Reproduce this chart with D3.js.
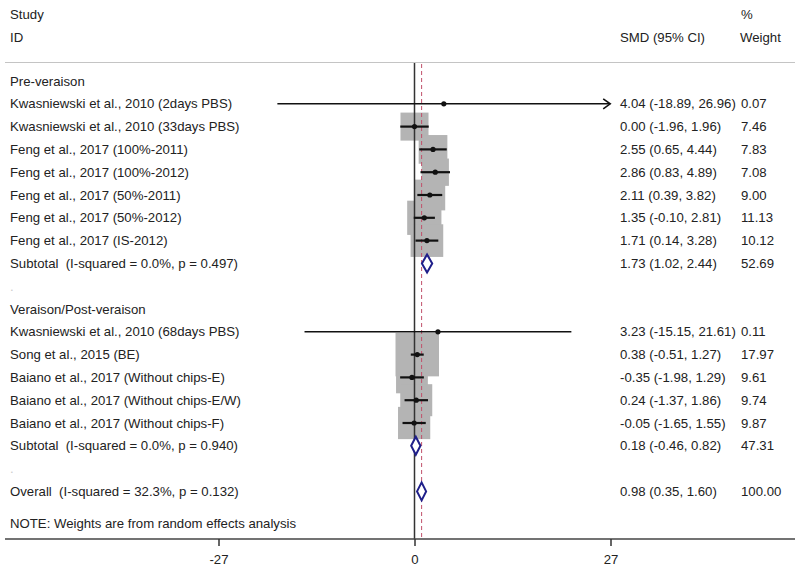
<!DOCTYPE html>
<html><head><meta charset="utf-8">
<script src="https://cdn.jsdelivr.net/npm/d3@7"></script>
<style>
html,body{margin:0;padding:0;background:#fff;}
svg{display:block;font-family:"Liberation Sans",Arial,sans-serif;}
svg text{white-space:pre;}
</style></head>
<body><svg id="chart" width="798" height="570"></svg>
<script>
// ---- data ----
const groupNames = ["Pre-veraison", "Veraison/Post-veraison"];
const studyNames = [
  "Kwasniewski et al., 2010 (2days PBS)",
  "Kwasniewski et al., 2010 (33days PBS)",
  "Feng et al., 2017 (100%-2011)",
  "Feng et al., 2017 (100%-2012)",
  "Feng et al., 2017 (50%-2011)",
  "Feng et al., 2017 (50%-2012)",
  "Feng et al., 2017 (IS-2012)",
  "Kwasniewski et al., 2010 (68days PBS)",
  "Song et al., 2015 (BE)",
  "Baiano et al., 2017 (Without chips-E)",
  "Baiano et al., 2017 (Without chips-E/W)",
  "Baiano et al., 2017 (Without chips-F)"
];
const studyGroup = [0,0,0,0,0,0,0,1,1,1,1,1];
const studySMD   = [4.04, 0.00, 2.55, 2.86, 2.11, 1.35, 1.71, 3.23, 0.38, -0.35, 0.24, -0.05];
const studyLow   = [-18.89, -1.96, 0.65, 0.83, 0.39, -0.10, 0.14, -15.15, -0.51, -1.98, -1.37, -1.65];
const studyHigh  = [26.96, 1.96, 4.44, 4.89, 3.82, 2.81, 3.28, 21.61, 1.27, 1.29, 1.86, 1.55];
const studyWeight= [0.07, 7.46, 7.83, 7.08, 9.00, 11.13, 10.12, 0.11, 17.97, 9.61, 9.74, 9.87];

const subtotalLabels = ["Subtotal  (I-squared = 0.0%, p = 0.497)", "Subtotal  (I-squared = 0.0%, p = 0.940)"];
const subtotalSMD    = [1.73, 0.18];
const subtotalLow    = [1.02, -0.46];
const subtotalHigh   = [2.44, 0.82];
const subtotalWeight = [52.69, 47.31];

const overallLabel = "Overall  (I-squared = 32.3%, p = 0.132)";
const overallSMD = 0.98, overallLow = 0.35, overallHigh = 1.60, overallWeight = 100.00;

const xTicks = [-27, 0, 27];
const xDomain = [-27, 27];
const noteText = "NOTE: Weights are from random effects analysis";

// ---- build rows ----
const rows = [];
groupNames.forEach((g, gi) => {
  rows.push({type: "group", label: g});
  studyNames.forEach((s, i) => {
    if (studyGroup[i] === gi) rows.push({type: "study", label: s, est: studySMD[i], lo: studyLow[i], hi: studyHigh[i], w: studyWeight[i]});
  });
  rows.push({type: "sub", label: subtotalLabels[gi], est: subtotalSMD[gi], lo: subtotalLow[gi], hi: subtotalHigh[gi], w: subtotalWeight[gi]});
  rows.push({type: "blank", label: "."});
});
rows.push({type: "sub", label: overallLabel, est: overallSMD, lo: overallLow, hi: overallHigh, w: overallWeight});
rows.forEach((r, i) => r.idx = i);

// ---- scales ----
const svg = d3.select("#chart");
const x = d3.scaleLinear().domain(xDomain).range([218.5, 610.5]);
const y = d3.scaleLinear().domain([0, rows.length - 1]).range([81, 491.4]);
const boxSide = d3.scaleSqrt().domain([0, 17.97]).range([0, 43.5]);
const f2 = v => v.toFixed(2);
const textColor = "#222";
const fs = 13.2;
const axisY = 539;

// header
const hdr = svg.append("g").attr("font-size", fs).attr("fill", textColor);
hdr.append("text").attr("x", 10).attr("y", 14).attr("dy", "0.35em").text("Study");
hdr.append("text").attr("x", 10).attr("y", 37).attr("dy", "0.35em").text("ID");
hdr.append("text").attr("x", 741).attr("y", 14).attr("dy", "0.35em").text("%");
hdr.append("text").attr("x", 620).attr("y", 37).attr("dy", "0.35em").text("SMD (95% CI)");
hdr.append("text").attr("x", 740).attr("y", 37).attr("dy", "0.35em").text("Weight");
svg.append("line").attr("x1", 5).attr("x2", 795).attr("y1", 62.5).attr("y2", 62.5).attr("stroke", "#c4c4c4").attr("stroke-width", 1);

// boxes
const studies = rows.filter(r => r.type === "study");
svg.append("g").selectAll("rect").data(studies).join("rect")
  .attr("x", d => x(d.est) - boxSide(d.w) / 2)
  .attr("y", d => y(d.idx) - boxSide(d.w) / 2)
  .attr("width", d => boxSide(d.w))
  .attr("height", d => boxSide(d.w))
  .attr("fill", "#b4b4b4");

// zero line
svg.append("line").attr("x1", x(0)).attr("x2", x(0)).attr("y1", 63).attr("y2", axisY)
  .attr("stroke", "#333").attr("stroke-width", 1.5);
// overall dashed line
svg.append("line").attr("x1", x(overallSMD)).attr("x2", x(overallSMD)).attr("y1", 64).attr("y2", axisY)
  .attr("stroke", "#c0506a").attr("stroke-width", 1).attr("stroke-dasharray", "4,3");

// CI lines
const xMin = xDomain[0], xMax = xDomain[1];
svg.append("g").selectAll("line").data(studies).join("line")
  .attr("x1", d => x(Math.max(d.lo, xMin)))
  .attr("x2", d => x(Math.min(d.hi, xMax)))
  .attr("y1", d => y(d.idx)).attr("y2", d => y(d.idx))
  .attr("stroke", "#111").attr("stroke-width", d => (d.hi - d.lo) > 20 ? 1.6 : 2.2);
// arrowheads for CIs that reach the axis edge
svg.append("g").selectAll("path").data(studies.filter(d => d.hi >= xMax - 0.1)).join("path")
  .attr("d", d => { const ex = x(Math.min(d.hi, xMax)), ey = y(d.idx); return `M${ex-7},${ey-5}L${ex},${ey}L${ex-7},${ey+5}`; })
  .attr("fill", "none").attr("stroke", "#111").attr("stroke-width", 1.6);
// points
svg.append("g").selectAll("circle").data(studies).join("circle")
  .attr("cx", d => x(d.est)).attr("cy", d => y(d.idx)).attr("r", 2.6).attr("fill", "#111");

// diamonds
const subs = rows.filter(r => r.type === "sub");
svg.append("g").selectAll("path").data(subs).join("path")
  .attr("d", d => { const yy = y(d.idx); return `M${x(d.lo)},${yy}L${x(d.est)},${yy-9}L${x(d.hi)},${yy}L${x(d.est)},${yy+9}Z`; })
  .attr("fill", "#fff").attr("stroke", "#1f1f8a").attr("stroke-width", 2);

// labels
const lab = svg.append("g").attr("font-size", fs).attr("fill", textColor);
lab.selectAll("text.lbl").data(rows).join("text").attr("class", "lbl")
  .attr("x", 10).attr("y", d => y(d.idx)).attr("dy", "0.35em")
  .attr("fill", d => d.type === "blank" ? "#ccc" : textColor)
  .text(d => d.label);
const valRows = rows.filter(r => r.type === "study" || r.type === "sub");
lab.selectAll("text.est").data(valRows).join("text").attr("class", "est")
  .attr("x", 620).attr("y", d => y(d.idx)).attr("dy", "0.35em")
  .text(d => `${f2(d.est)} (${f2(d.lo)}, ${f2(d.hi)})`);
lab.selectAll("text.wt").data(valRows).join("text").attr("class", "wt")
  .attr("x", 741).attr("y", d => y(d.idx)).attr("dy", "0.35em")
  .text(d => f2(d.w));
lab.append("text").attr("x", 10).attr("y", 523).attr("dy", "0.35em").text(noteText);

// axis
svg.append("line").attr("x1", 5).attr("x2", 795).attr("y1", axisY).attr("y2", axisY).attr("stroke", "#444").attr("stroke-width", 1.5);
const ax = svg.append("g").attr("transform", `translate(0,${axisY})`)
  .call(d3.axisBottom(x).tickValues(xTicks).tickSize(7).tickPadding(9).tickFormat(d => String(d)));
ax.select(".domain").remove();
ax.selectAll(".tick line").attr("stroke", "#333").attr("stroke-width", 1.5);
ax.selectAll(".tick text").attr("font-size", fs).attr("fill", textColor).attr("font-family", "Liberation Sans, Arial, sans-serif");
</script>
</body></html>
